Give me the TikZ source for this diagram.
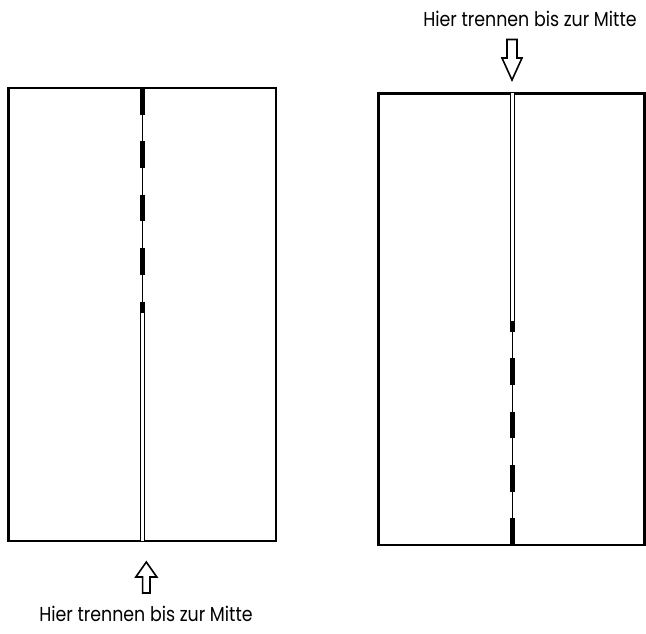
\documentclass[tikz,border=0pt]{standalone}
\usepackage{graphicx}
\usepackage{fontspec}
\setmainfont{Poppins}
\newcommand{\lbltext}{\scalebox{1}[1.16]{\fontsize{17.4}{20}\selectfont Hier trennen bis zur Mitte}}
\begin{document}
\begin{tikzpicture}[x=1pt,y=-1pt,
  frame/.style={line width=2.2pt,draw=black},
  thinline/.style={line width=1pt,draw=black},
  dashseg/.style={line width=5pt,draw=black},
  slit/.style={line width=1pt,draw=black,double=white,double distance=3.5pt},
  openarrow/.style={line width=1.6pt,draw=black,fill=white,line join=miter},
  label/.style={inner sep=0pt,anchor=base}]
\useasboundingbox (0,0) rectangle (646,634);
% left sheet
\draw[frame] (8.5,88) rectangle (276,541);
\draw[thinline] (142.7,88) -- (142.7,313);
\foreach \y in {88,141.3,194.7,248}
  \draw[dashseg] (142.7,\y) -- (142.7,\y+26.7);
\draw[dashseg] (142.7,301.5) -- (142.7,313);
\draw[slit] (142.7,313) -- (142.7,541);
% right sheet
\draw[frame] (378.5,93.5) rectangle (644.5,545);
\draw[slit] (512.7,93.5) -- (512.7,321);
\draw[thinline] (512.7,321) -- (512.7,545);
\draw[dashseg] (512.7,321) -- (512.7,332);
\foreach \y in {358.3,411.7,465,518.3}
  \draw[dashseg] (512.7,\y) -- (512.7,\y+26.7);
% arrows
\draw[openarrow] (146.3,562) -- (156.8,577) -- (150,577) -- (150,593) -- (142.6,593) -- (142.6,577) -- (135.8,577) -- cycle;
\draw[openarrow] (512,80) -- (522,58) -- (517,58) -- (517,39.5) -- (507,39.5) -- (507,58) -- (502,58) -- cycle;
% labels
\node[label] (lbl1) at (146,621) {\lbltext};
\node[label] (lbl2) at (530,27) {\lbltext};
\end{tikzpicture}
\end{document}
